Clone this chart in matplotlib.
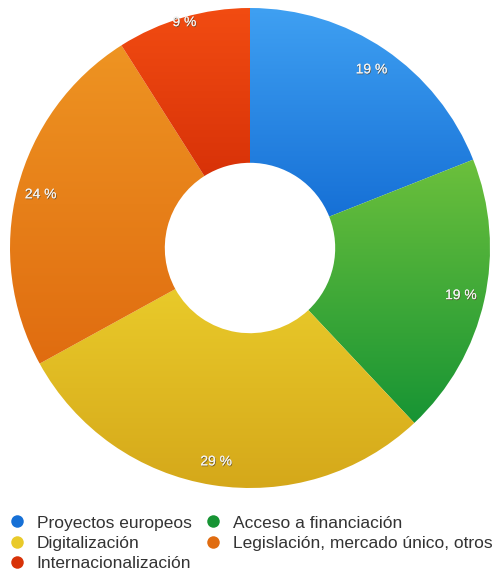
import numpy as np
import matplotlib
matplotlib.use("Agg")
import matplotlib.pyplot as plt
from matplotlib.colors import LinearSegmentedColormap
from matplotlib.lines import Line2D
import matplotlib.patheffects as pe

plt.rcParams['font.family'] = ['Liberation Sans', 'DejaVu Sans']

# datos
categorias = ['Proyectos europeos', 'Acceso a financiación', 'Digitalización',
              'Legislación, mercado único, otros', 'Internacionalización']
valores = [19, 19, 29, 24, 9]
# degradado (claro arriba, oscuro abajo) por sector
colores_top = ['#3fa0f2', '#6cc03c', '#e9ca2a', '#ee9422', '#f24c12']
colores_bot = ['#1670d6', '#179434', '#d5a81a', '#e06c10', '#d83208']

fig = plt.figure(figsize=(4.95, 5.72), dpi=100)
ax = fig.add_axes([10 / 495, 84 / 572, 480 / 495, 480 / 572])

wedges, _ = ax.pie(valores, startangle=90, counterclock=False, radius=1.0,
                   wedgeprops=dict(width=0.645, linewidth=0))

grad = np.linspace(0, 1, 256).reshape(-1, 1)
for w, ct, cb in zip(wedges, colores_top, colores_bot):
    w.set_facecolor('none')
    ext = w.get_path().get_extents()
    cmap = LinearSegmentedColormap.from_list('g', [ct, cb])
    im = ax.imshow(grad, cmap=cmap, aspect='auto', interpolation='bilinear',
                   extent=(ext.x0, ext.x1, ext.y0, ext.y1), origin='upper', zorder=1)
    im.set_clip_path(w)

# etiquetas de porcentaje
shadow = [pe.withSimplePatchShadow(offset=(0.5, -0.7), shadow_rgbFace='#5a4a30', alpha=0.8), pe.Normal()]
for w, v in zip(wedges, valores):
    ang = np.deg2rad((w.theta1 + w.theta2) / 2)
    r = 0.98 if v < 10 else 0.90
    ax.text(r * np.cos(ang), r * np.sin(ang), f'{v} %', ha='center', va='center',
            fontsize=10, color='#f2f2f2', zorder=5, path_effects=shadow)

ax.set_xlim(-1, 1)
ax.set_ylim(-1, 1)
ax.set_aspect('equal')
ax.axis('off')

# leyenda
orden = [0, 2, 4, 1, 3]
handles = [Line2D([0], [0], marker='o', linestyle='none', markersize=9,
                  markerfacecolor=colores_bot[i] if i != 2 else colores_top[i],
                  markeredgewidth=0, label=categorias[i]) for i in orden]
fig.legend(handles=handles, ncol=2, loc='upper left', bbox_to_anchor=(0.016, 0.099),
           frameon=False, fontsize=12.5, handletextpad=0.65, columnspacing=0.74,
           labelspacing=0.29, handlelength=1.0, labelcolor='#333333', borderaxespad=0,
           borderpad=0)

fig.savefig('out.png', dpi=100)
